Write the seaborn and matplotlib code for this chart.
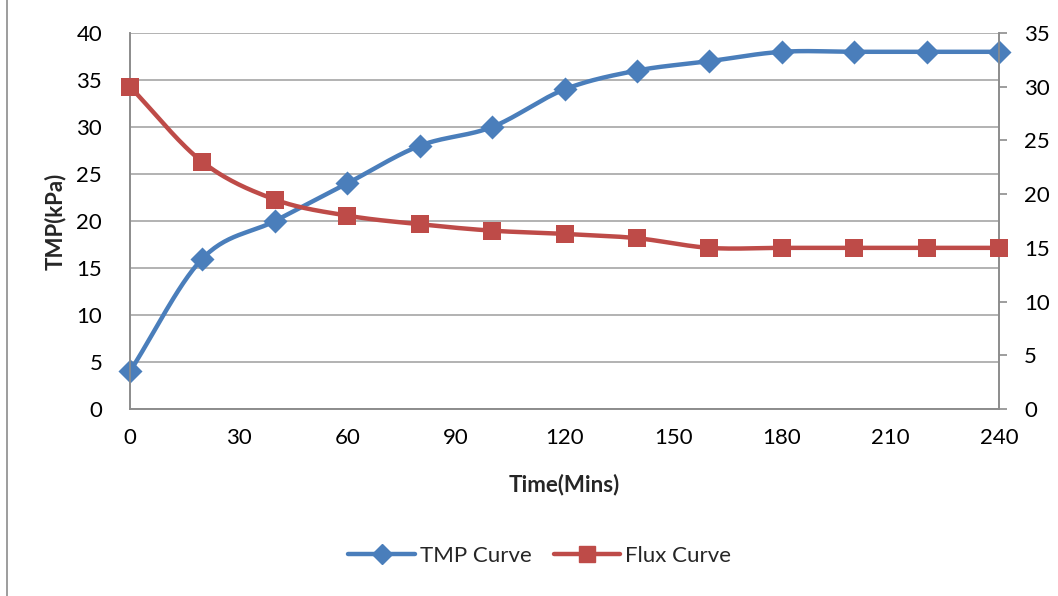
import numpy as np
import pandas as pd
import matplotlib
matplotlib.use("Agg")
import matplotlib.pyplot as plt
from matplotlib.lines import Line2D
import seaborn as sns

# Measurements
time_min = [0, 20, 40, 60, 80, 100, 120, 140, 160, 180, 200, 220, 240]
tmp_kpa = [4, 16, 20, 24, 28, 30, 34, 36, 37, 38, 38, 38, 38]
flux = [30, 23, 19.5, 18, 17.2, 16.6, 16.3, 15.9, 15, 15, 15, 15, 15]

x_ticks = [0, 30, 60, 90, 120, 150, 180, 210, 240]
left_ticks = [0, 5, 10, 15, 20, 25, 30, 35, 40]
right_ticks = [0, 5, 10, 15, 20, 25, 30, 35]

BLUE = "#4A7EBB"
RED = "#BE4B48"
GRID = "#A6A6A6"


def smooth(xs, ys, steps=30):
    """Catmull-Rom spline through the points, for a smoothed line look."""
    xs = np.asarray(xs, float)
    ys = np.asarray(ys, float)
    px = np.concatenate([[2 * xs[0] - xs[1]], xs, [2 * xs[-1] - xs[-2]]])
    py = np.concatenate([[2 * ys[0] - ys[1]], ys, [2 * ys[-1] - ys[-2]]])
    out_x, out_y = [], []
    t = np.linspace(0, 1, steps, endpoint=False)
    for i in range(1, len(px) - 2):
        for p, out in ((px, out_x), (py, out_y)):
            p0, p1, p2, p3 = p[i - 1], p[i], p[i + 1], p[i + 2]
            out.extend(0.5 * ((2 * p1) + (-p0 + p2) * t
                              + (2 * p0 - 5 * p1 + 4 * p2 - p3) * t ** 2
                              + (-p0 + 3 * p1 - 3 * p2 + p3) * t ** 3))
    out_x.append(xs[-1])
    out_y.append(ys[-1])
    return np.array(out_x), np.array(out_y)


sns.set_theme(style="white")
plt.rcParams["font.family"] = ["Lato", "DejaVu Sans"]

fig = plt.figure(figsize=(10.58, 5.96), dpi=100)
ax = fig.add_axes([130 / 1058, 1 - 409 / 596, 869 / 1058, 376 / 596])
ax2 = ax.twinx()

df = pd.DataFrame({"time": time_min, "tmp": tmp_kpa, "flux": flux})

sx, sy = smooth(df["time"], df["tmp"])
sns.lineplot(x=sx, y=sy, ax=ax, color=BLUE, linewidth=3.2, sort=False, zorder=3)
sns.scatterplot(data=df, x="time", y="tmp", ax=ax, marker="D", s=150,
                color=BLUE, edgecolor=BLUE, linewidth=0, zorder=4, clip_on=False)

fx, fy = smooth(df["time"], df["flux"])
sns.lineplot(x=fx, y=fy, ax=ax2, color=RED, linewidth=3.2, sort=False, zorder=3)
sns.scatterplot(data=df, x="time", y="flux", ax=ax2, marker="s", s=170,
                color=RED, edgecolor=RED, linewidth=0, zorder=4, clip_on=False)

ax.set_xlim(0, 240)
ax.set_ylim(0, 40)
ax2.set_ylim(0, 35)
ax.set_xticks(x_ticks)
ax.set_yticks(left_ticks)
ax2.set_yticks(right_ticks)
ax.yaxis.grid(True, color=GRID, linewidth=1.2)
ax.xaxis.grid(False)
ax2.grid(False)

for a in (ax, ax2):
    a.spines["top"].set_visible(False)
    for side in ("left", "right", "bottom"):
        a.spines[side].set_color("#8C8C8C")
        a.spines[side].set_linewidth(1.2)
    a.tick_params(labelsize=16, colors="black", length=0)
ax.tick_params(axis="y", pad=20)
ax.tick_params(axis="x", pad=14)
ax2.tick_params(axis="y", length=6, width=1.2, color="#8C8C8C", direction="out", pad=12)

ax.set_xlabel("Time(Mins)", fontsize=16, fontweight="bold", labelpad=18)
ax.set_ylabel("TMP(kPa)", fontsize=16, fontweight="bold")
ax.yaxis.set_label_coords(-64 / 869, 0.5)
ax2.set_ylabel("")

handles = [
    Line2D([], [], color=BLUE, lw=3.2, marker="D", markersize=10),
    Line2D([], [], color=RED, lw=3.2, marker="s", markersize=11),
]
fig.legend(handles, ["TMP Curve", "Flux Curve"], loc="center",
           bbox_to_anchor=(0.51, 1 - 556 / 596), ncol=2, frameon=False,
           fontsize=16, handlelength=3.0, columnspacing=1.0, handletextpad=0.2)

# outer chart border
fig.add_artist(Line2D([7 / 1058, 7 / 1058], [0, 1], transform=fig.transFigure,
                      color="#8C8C8C", lw=1.2))

fig.savefig("out.png", dpi=100, facecolor="white")
